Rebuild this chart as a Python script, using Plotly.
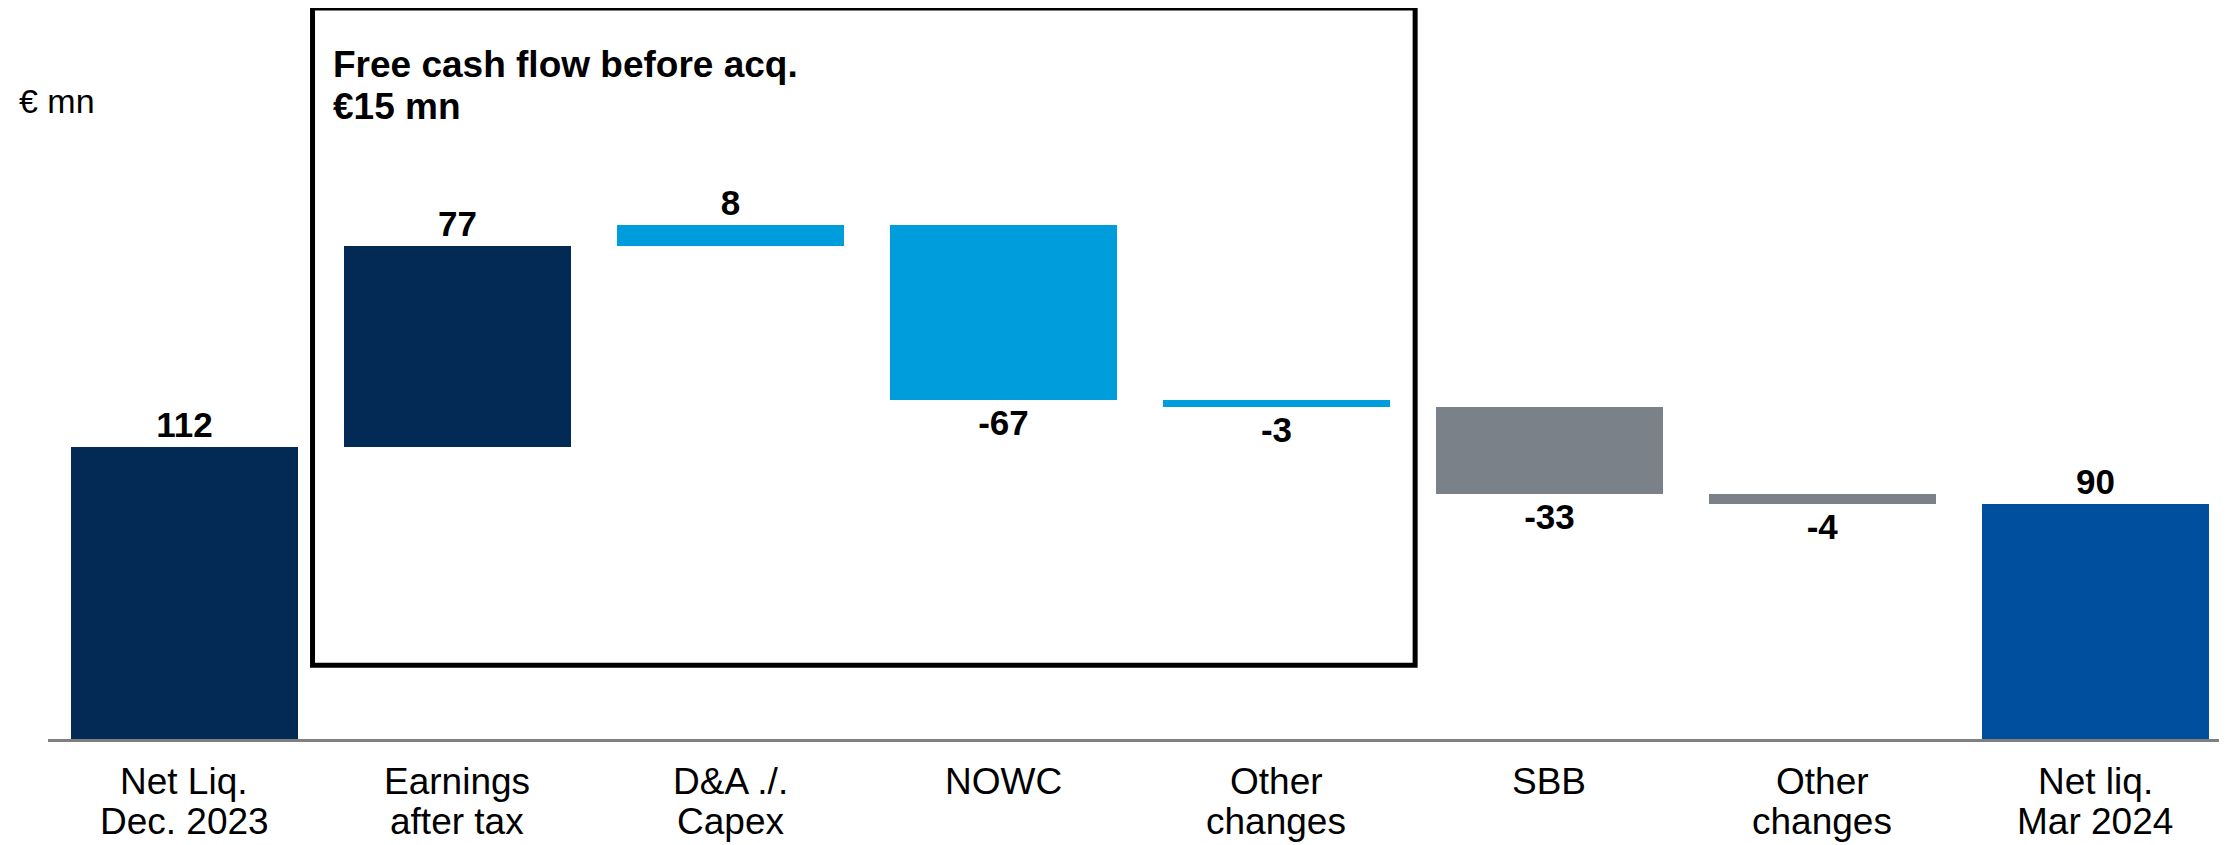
"""Net liquidity bridge Dec 2023 -> Mar 2024 as a floating-bar waterfall."""

import plotly.graph_objects as go

label_line1 = ["Net Liq.", "Earnings", "D&A ./.", "NOWC", "Other", "SBB", "Other", "Net liq."]
label_line2 = ["Dec. 2023", "after tax", "Capex", "", "changes", "", "changes", "Mar 2024"]
values = [112, 77, 8, -67, -3, -33, -4, 90]
is_total = [True, False, False, False, False, False, False, True]
bar_colors = ["#022A55", "#022A55", "#009DDC", "#009DDC", "#009DDC", "#7A8189", "#7A8189", "#004F9F"]
labels = ["112", "77", "8", "-67", "-3", "-33", "-4", "90"]

FONT = "Liberation Sans, Arial, sans-serif"

# running totals give the floating base of each bar
bases = []
running = 0
for val, total in zip(values, is_total):
    if total:
        bases.append(0)
        running = val
    else:
        bases.append(running)
        running += val

x = list(range(len(values)))

fig = go.Figure()
fig.add_trace(
    go.Bar(
        x=x,
        y=values,
        base=bases,
        width=0.833,
        marker=dict(color=bar_colors, line=dict(width=0)),
        text=labels,
        textposition="outside",
        textfont=dict(family=FONT, size=35, color="#000000", weight="bold"),
        constraintext="none",
        cliponaxis=False,
        showlegend=False,
        hoverinfo="skip",
    )
)

# box around the free-cash-flow components
fig.add_shape(
    type="rect",
    xref="x",
    yref="paper",
    x0=0.469,
    x1=4.508,
    y0=0.101,
    y1=1.0,
    line=dict(color="#000000", width=5),
    fillcolor="rgba(0,0,0,0)",
    layer="below",
)

fig.add_annotation(
    text="<b>Free cash flow before acq.</b>",
    xref="x", yref="paper", x=0.538, y=0.923,
    xanchor="left", yanchor="middle", showarrow=False,
    font=dict(family=FONT, size=37, color="#000000"),
)
fig.add_annotation(
    text="<b>€15 mn</b>",
    xref="x", yref="paper", x=0.538, y=0.865,
    xanchor="left", yanchor="middle", showarrow=False,
    font=dict(family=FONT, size=37, color="#000000"),
)
fig.add_annotation(
    text="€ mn",
    xref="paper", yref="paper", x=-0.0142, y=0.873,
    xanchor="left", yanchor="middle", showarrow=False,
    font=dict(family=FONT, size=34, color="#000000"),
)

# category labels, two lines each, set tighter than plotly's <br> spacing
for xi, (l1, l2) in enumerate(zip(label_line1, label_line2)):
    for text, ypos in ((l1, -0.0575), (l2, -0.1135)):
        if text:
            fig.add_annotation(
                text=text,
                xref="x", yref="paper", x=xi, y=ypos,
                xanchor="center", yanchor="middle", showarrow=False,
                font=dict(family=FONT, size=37, color="#000000"),
            )

fig.update_layout(
    width=2219,
    height=837,
    margin=dict(l=40, r=0, t=0, b=106),
    plot_bgcolor="#FFFFFF",
    paper_bgcolor="#FFFFFF",
    font=dict(family=FONT, color="#000000"),
    bargap=0,
    xaxis=dict(
        range=[-0.5, 7.482],
        tickvals=x,
        showticklabels=False,
        showline=True,
        linecolor="#808080",
        linewidth=3,
        showgrid=False,
        zeroline=False,
        ticks="",
        fixedrange=True,
    ),
    yaxis=dict(
        range=[0, 280],
        visible=False,
        showgrid=False,
        zeroline=False,
        fixedrange=True,
    ),
)

fig.write_html("out.html")
